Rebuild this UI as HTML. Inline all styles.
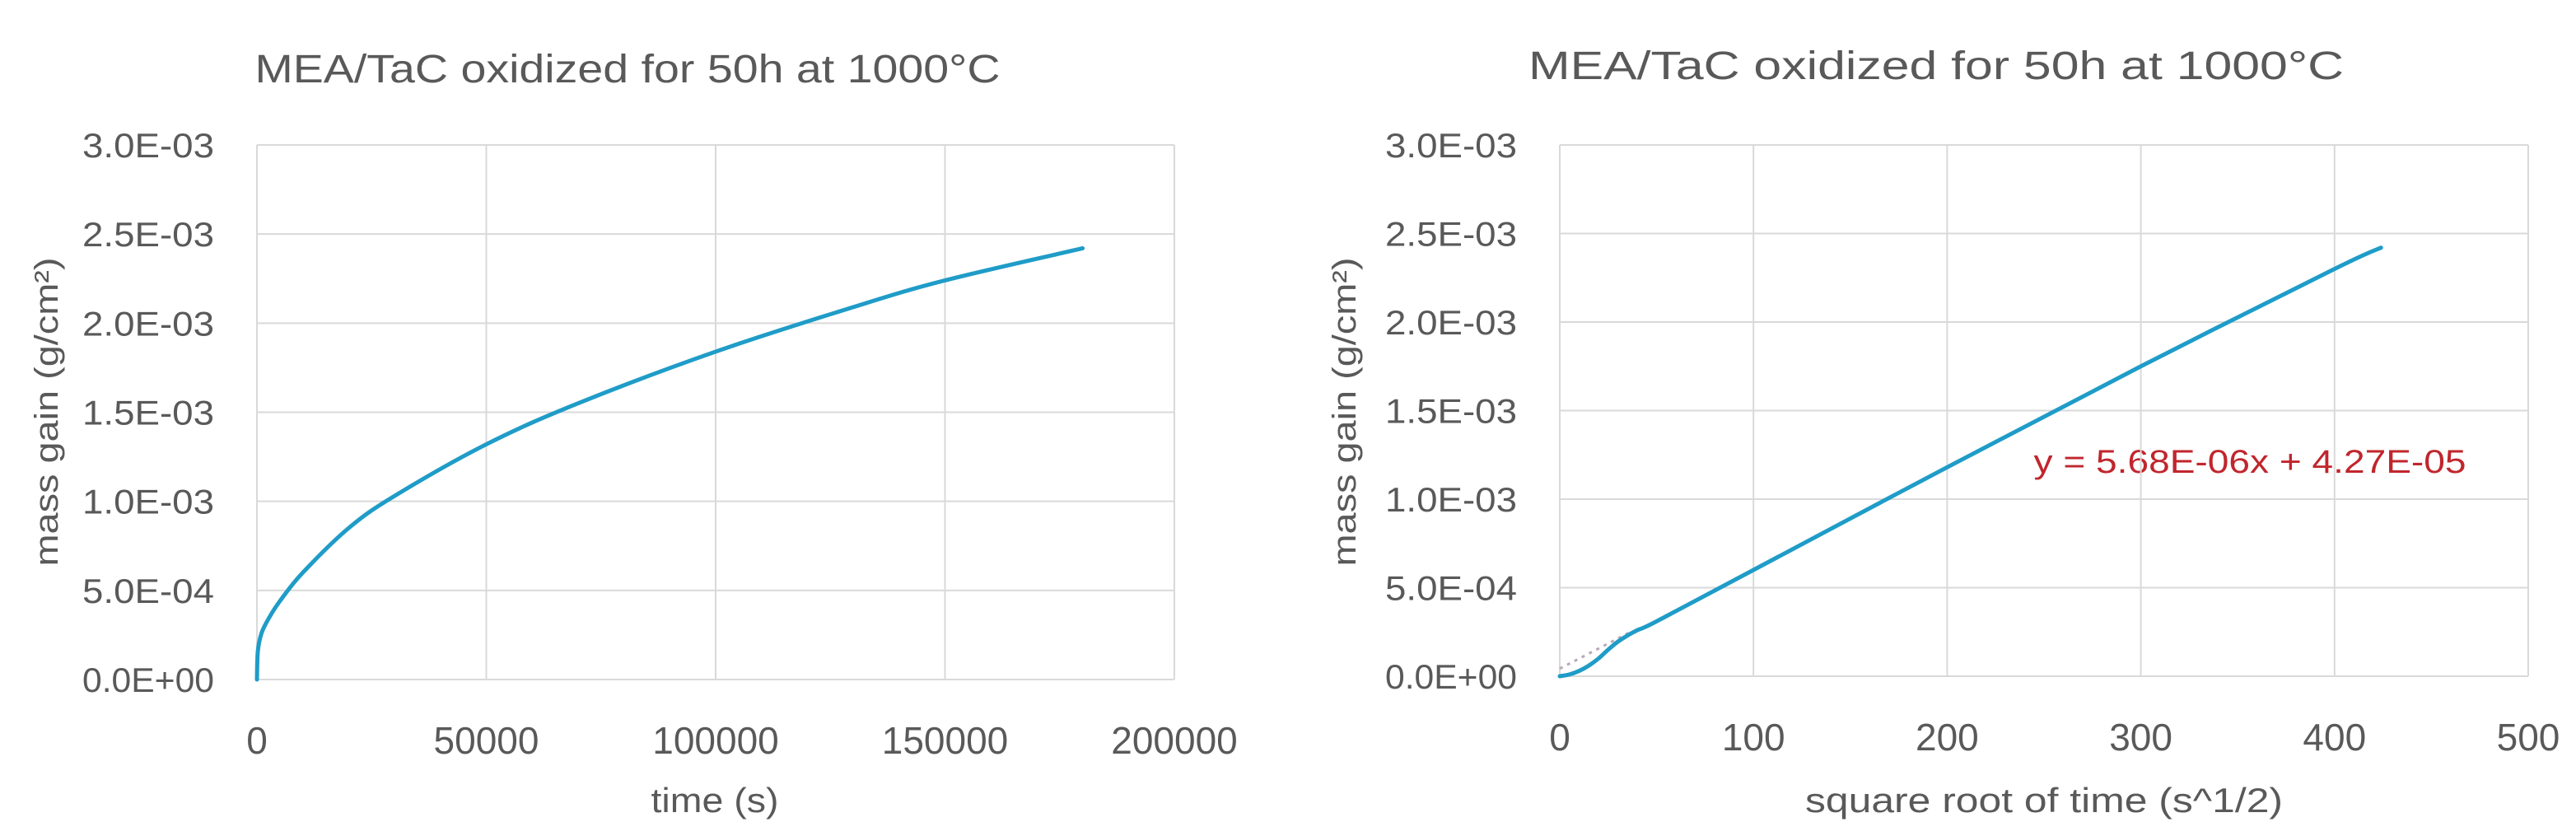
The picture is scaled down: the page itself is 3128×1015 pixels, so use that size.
<!DOCTYPE html>
<html><head><meta charset="utf-8"><style>
html,body{margin:0;padding:0;background:#fff}
svg{display:block}
text{font-family:"Liberation Sans",sans-serif;fill:#595959}
</style></head><body>
<svg id="svg" width="3128" height="1015" viewBox="0 0 3128 1015">
<text x="762" y="100" font-size="48" textLength="905" lengthAdjust="spacingAndGlyphs" text-anchor="middle">MEA/TaC oxidized for 50h at 1000°C</text>
<text x="2351" y="96" font-size="48" textLength="990" lengthAdjust="spacingAndGlyphs" text-anchor="middle">MEA/TaC oxidized for 50h at 1000°C</text>
<text transform="translate(70,500) rotate(-90)" font-size="40" text-anchor="middle" textLength="375" lengthAdjust="spacingAndGlyphs">mass gain (g/cm²)</text>
<text transform="translate(1646,500) rotate(-90)" font-size="40" text-anchor="middle" textLength="375" lengthAdjust="spacingAndGlyphs">mass gain (g/cm²)</text>
<text x="868" y="986" font-size="42" text-anchor="middle" textLength="155" lengthAdjust="spacingAndGlyphs">time (s)</text>
<text x="2482" y="986" font-size="42" text-anchor="middle" textLength="580" lengthAdjust="spacingAndGlyphs">square root of time (s^1/2)</text>
<text x="2732" y="574" font-size="40" text-anchor="middle" textLength="525" lengthAdjust="spacingAndGlyphs" style="fill:#c0262d">y = 5.68E-06x + 4.27E-05</text>
<g id="left"></g><g id="right"></g>
</svg>
<script>
const yTicks=[0,0.0005,0.001,0.0015,0.002,0.0025,0.003];
const yTickLabels=["0.0E+00","5.0E-04","1.0E-03","1.5E-03","2.0E-03","2.5E-03","3.0E-03"];
const leftXTicks=[0,50000,100000,150000,200000];
const rightXTicks=[0,100,200,300,400,500];
const leftTime=[0,200,1000,2500,5000,10000,20000,30000,50000,70000,100000,130000,150000,180000];
const leftMass=[0,0.00016,0.00026,0.00034,0.00044,0.0006,0.00085,0.00103,0.00132,0.00155,0.00184,0.00209,0.00224,0.00242];
const rightSqrt=[0,5,10,15,20,25,30,35,40,50,100,200,300,400,424];
const rightMass=[0,0.00001,0.00003,0.00006,0.0001,0.00015,0.000195,0.00023,0.00026,0.00031,0.0006,0.00118,0.00175,0.0023,0.00242];
const trendSlope=5.68e-6, trendIntercept=4.27e-5, trendEnd=36;
const NS="http://www.w3.org/2000/svg";
function mk(tag,attrs,parent){const e=document.createElementNS(NS,tag);for(const k in attrs)e.setAttribute(k,attrs[k]);parent.appendChild(e);return e;}
function smooth(pts){let d="M"+pts[0][0]+","+pts[0][1];for(let i=0;i<pts.length-1;i++){const p0=pts[Math.max(0,i-1)],p1=pts[i],p2=pts[i+1],p3=pts[Math.min(pts.length-1,i+2)];const c1=[p1[0]+(p2[0]-p0[0])/6,p1[1]+(p2[1]-p0[1])/6],c2=[p2[0]-(p3[0]-p1[0])/6,p2[1]-(p3[1]-p1[1])/6];d+=" C"+c1+" "+c2+" "+p2;}return d;}
function chart(g,L,R,T,B,xTicks,xs,ys,prefix,trend){
  const xMax=xTicks[xTicks.length-1];
  const X=v=>L+(R-L)*v/xMax, Y=v=>B-(B-T)*v/0.003;
  yTicks.forEach((v,i)=>{
    const ln=mk("line",{x1:L,x2:R,y1:Y(v),y2:Y(v),stroke:"#d9d9d9","stroke-width":2},g);
    
    
    const t=mk("text",{x:L-52,y:Y(v)+15,"font-size":42,"text-anchor":"end",textLength:160,lengthAdjust:"spacingAndGlyphs"},g);
    t.textContent=yTickLabels[i];
    
    
  });
  xTicks.forEach(v=>{
    const ln=mk("line",{x1:X(v),x2:X(v),y1:T,y2:B,stroke:"#d9d9d9","stroke-width":2},g);
    
    
    const t=mk("text",{x:X(v),y:B+90,"font-size":46,"text-anchor":"middle"},g);
    t.textContent=String(v);
    
    
  });
  if(trend){
    const tl=mk("line",{x1:X(0),y1:Y(trendIntercept),x2:X(trendEnd),y2:Y(trendSlope*trendEnd+trendIntercept),stroke:"#b9a9b9","stroke-width":3,"stroke-dasharray":"4 6"},g);
    
    
  }
  const pts=xs.map((x,i)=>[X(x),Y(ys[i])]);
  const p=mk("path",{d:smooth(pts),fill:"none",stroke:"#1f9cc8","stroke-width":5,"stroke-linejoin":"round","stroke-linecap":"round"},g);
  
  
}
chart(document.getElementById("left"),312,1426,176,825,leftXTicks,leftTime,leftMass,"left",false);
chart(document.getElementById("right"),1894,3070,176,821,rightXTicks,rightSqrt,rightMass,"right",true);
</script>
</body></html>
